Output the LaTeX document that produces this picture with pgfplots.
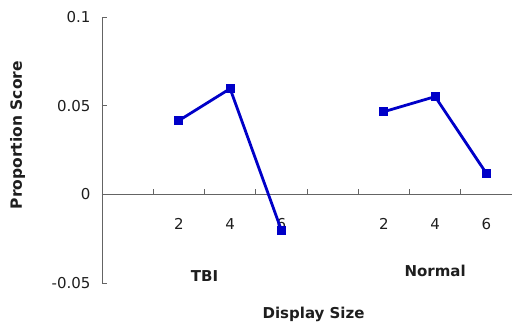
\documentclass[border=0pt]{standalone}
\usepackage{pgfplots}
\pgfplotsset{compat=1.18}
\usepackage{fontspec}
\setmainfont{DejaVu Sans}
\definecolor{serblue}{RGB}{0,0,200}
\definecolor{axgray}{RGB}{100,100,100}
\definecolor{txt}{RGB}{30,30,30}
\begin{document}
\begin{tikzpicture}
\useasboundingbox (0,0) rectangle (512pt,326pt);
\begin{axis}[
  at={(102pt,43pt)}, anchor=south west,
  scale only axis, width=410pt, height=266pt,
  xmin=-0.5, xmax=7.5, ymin=-0.05, ymax=0.1,
  axis x line=middle, axis y line=left,
  axis line style={-, axgray, line width=0.8pt},
  every tick/.style={axgray, line width=0.8pt},
  tick align=inside,
  xtick={1,2,3,5,6,7}, xticklabels={2,4,6,2,4,6},
  major x tick style={draw=none},
  minor xtick={0.5,1.5,2.5,3.5,4.5,5.5,6.5},
  minor tick length=5pt,
  ytick={-0.05,0,0.05,0.1}, yticklabels={-0.05,0,0.05,0.1},
  major tick length=5pt,
  tick label style={font=\fontsize{15}{18}\selectfont, text=txt},
  xticklabel style={yshift=-21pt},
  yticklabel style={xshift=-8pt},
  clip=false,
]
\addplot[serblue, line width=2.8pt, mark=square*, mark size=3pt, mark options={solid}]
  coordinates {(1,0.0416) (2,0.0596) (3,-0.0202)};
\addplot[serblue, line width=2.8pt, mark=square*, mark size=3pt, mark options={solid}]
  coordinates {(5,0.0466) (6,0.0551) (7,0.0118)};
\node[anchor=base, text=txt, font=\bfseries\fontsize{15}{18}\selectfont] at (axis cs:1.5,-0.0489) {TBI};
\node[anchor=base, text=txt, font=\bfseries\fontsize{15}{18}\selectfont] at (axis cs:6,-0.0466) {Normal};
\node[anchor=base, text=txt, font=\bfseries\fontsize{15}{18}\selectfont] at (axis description cs:0.516,-0.135) {Display Size};
\node[rotate=90, anchor=center, text=txt, font=\bfseries\fontsize{15.5}{18}\selectfont] at (axis description cs:-0.206,0.556) {Proportion Score};
\end{axis}
\end{tikzpicture}
\end{document}
